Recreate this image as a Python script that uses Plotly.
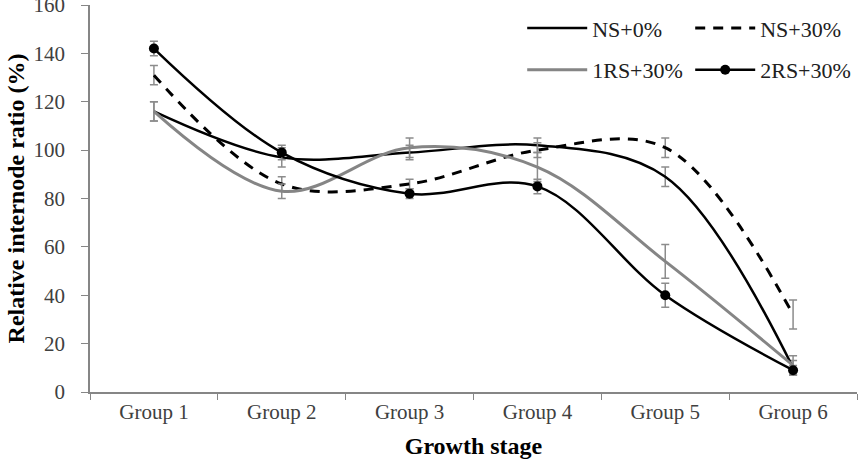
import plotly.graph_objects as go

groups = ["Group 1", "Group 2", "Group 3", "Group 4", "Group 5", "Group 6"]
ns0 = [116, 97, 99, 102, 89, 10]
ns0_err = [4, 4, 3, 3, 4, 3]
ns30 = [131, 86, 86, 100, 101, 32]
ns30_err = [4, 3, 2, 3, 4, 6]
rs1 = [116, 83, 101, 93, 54, 11]
rs1_err = [4, 3, 4, 6, 7, 4]
rs2 = [142, 99, 82, 85, 40, 9]
rs2_err = [3, 3, 2, 3, 5, 2]

FONT = "Liberation Serif"
ERR = "#8c8c8c"

def eb(e):
    return dict(type="data", array=e, visible=True, color=ERR, thickness=1.5, width=4)

fig = go.Figure()
fig.add_trace(go.Scatter(x=groups, y=ns0, name="NS+0%", mode="lines",
                         line=dict(color="black", width=2.5, shape="spline", smoothing=1),
                         error_y=eb(ns0_err), legend="legend"))
fig.add_trace(go.Scatter(x=groups, y=ns30, name="NS+30%", mode="lines",
                         line=dict(color="black", width=3, dash="10px,8px", shape="spline", smoothing=1),
                         error_y=eb(ns30_err), legend="legend"))
fig.add_trace(go.Scatter(x=groups, y=rs1, name="1RS+30%", mode="lines",
                         line=dict(color="#858585", width=3, shape="spline", smoothing=1),
                         error_y=eb(rs1_err), legend="legend2"))
fig.add_trace(go.Scatter(x=groups, y=rs2, name="2RS+30%", mode="lines+markers",
                         line=dict(color="black", width=2.5, shape="spline", smoothing=1),
                         marker=dict(color="black", size=10, symbol="circle"),
                         error_y=eb(rs2_err), legend="legend2"))

leg_common = dict(orientation="h", xanchor="left", yanchor="middle",
                  font=dict(family=FONT, size=22, color="#202020"),
                  itemwidth=60, entrywidthmode="pixels", entrywidth=93,
                  bgcolor="rgba(0,0,0,0)", tracegroupgap=0)

fig.update_layout(
    width=865, height=459,
    margin=dict(l=90, r=8, t=5, b=67, autoexpand=False),
    plot_bgcolor="white", paper_bgcolor="white",
    font=dict(family=FONT, size=21, color="#404040"),
    legend=dict(x=0.5635, y=0.94, **leg_common),
    legend2=dict(x=0.5635, y=0.832, **leg_common),
    xaxis=dict(type="category", range=[-0.5, 5.5], showline=True, linecolor="#868686",
               linewidth=1.5, ticks="outside", tickson="boundaries", ticklen=6,
               tickcolor="#868686", showgrid=False, zeroline=False, automargin=False,
               tickfont=dict(family=FONT, size=21, color="#404040"),
               title=dict(text="<b>Growth stage</b>", font=dict(family=FONT, size=24, color="black"),
                          standoff=16)),
    yaxis=dict(range=[0, 160], dtick=20, showline=True, linecolor="#868686", linewidth=1.5,
               ticks="outside", ticklen=7, tickcolor="#868686", showgrid=False, zeroline=False,
               ticklabeloverflow="allow", ticklabelstandoff=12, automargin=False,
               tickfont=dict(family=FONT, size=21, color="#404040"),
               title=dict(text="<b>Relative internode ratio (%)</b>",
                          font=dict(family=FONT, size=24, color="black"), standoff=2)),
)

fig.write_html("out.html")
